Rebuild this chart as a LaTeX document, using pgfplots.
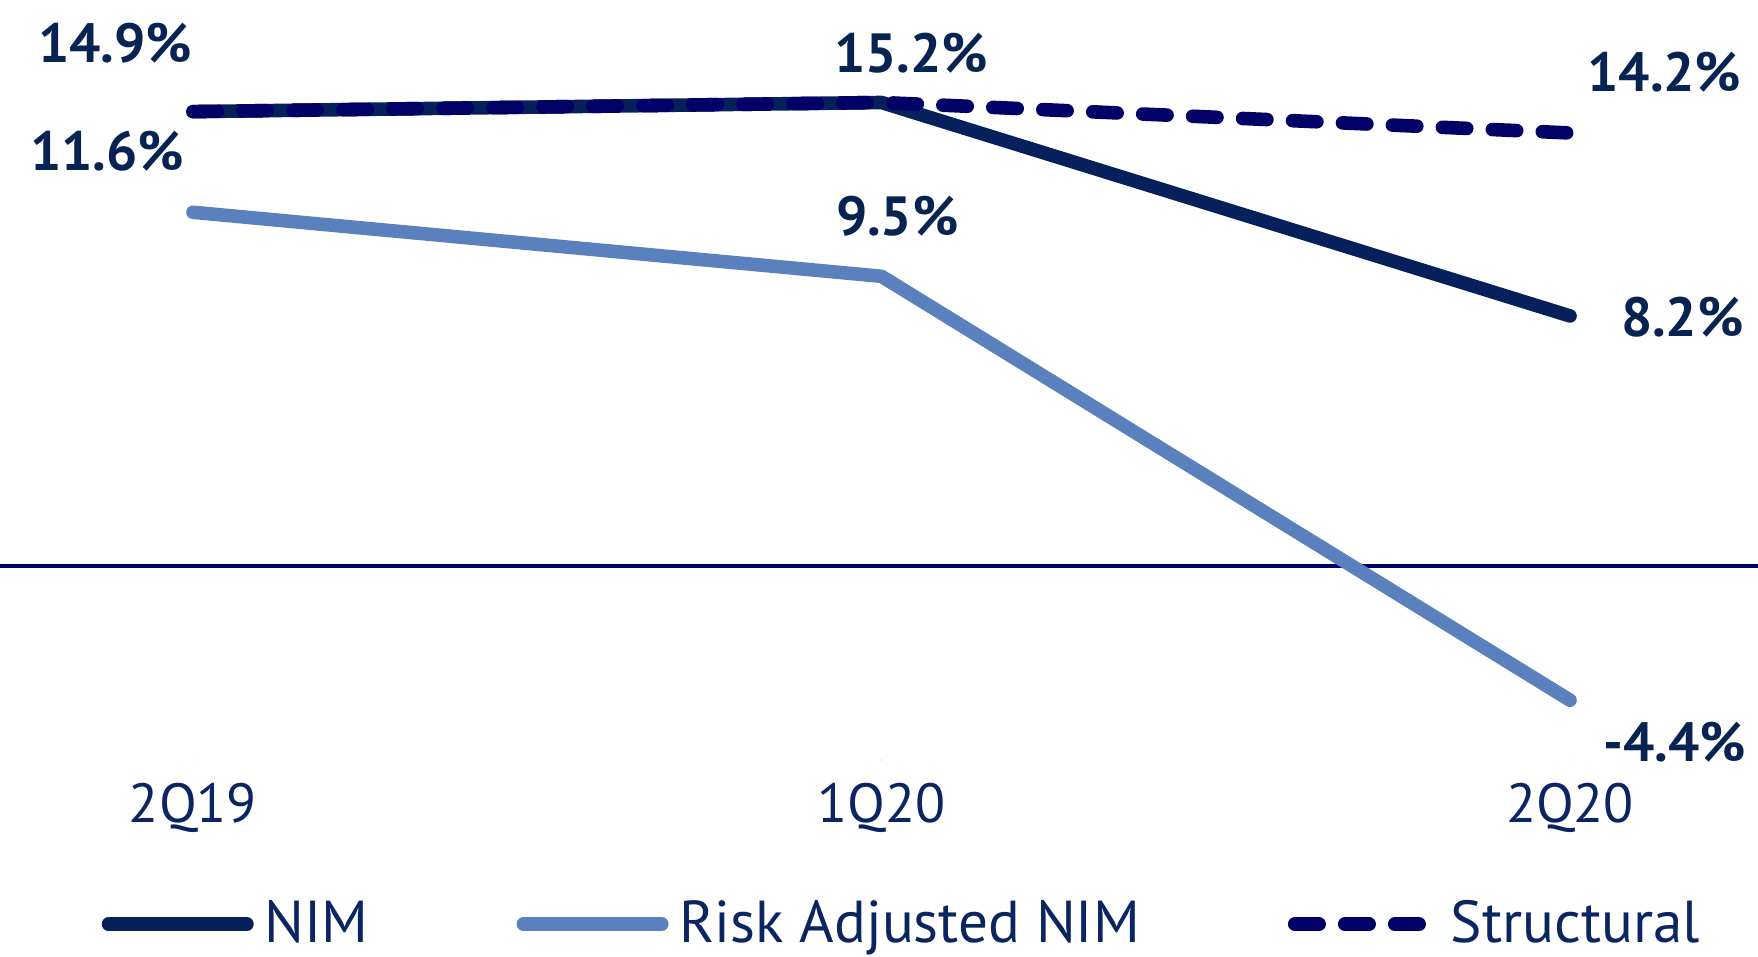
\documentclass[border=0pt]{standalone}
\usepackage{pgfplots}
\pgfplotsset{compat=1.18}
\usepackage{fontspec}
\setmainfont{PT Sans}
\definecolor{nim}{HTML}{06205C}
\definecolor{risk}{HTML}{5A80BE}
\definecolor{struc}{HTML}{000066}
\definecolor{txt}{HTML}{0B2462}
\definecolor{lbl}{HTML}{072352}

\begin{document}
\begin{tikzpicture}[x=1pt,y=1pt]
\useasboundingbox (0,0) rectangle (439.5,239);
\begin{axis}[
  at={(0pt,49pt)}, anchor=south west,
  scale only axis, width=439.5pt, height=190pt,
  xmin=-0.2803, xmax=2.2730, ymin=-6.36, ymax=18.56,
  clip=false,
  axis x line*=bottom, axis y line=none,
  x axis line style={draw=none},
  major tick length=0pt,
  ytick=\empty,
  xtick={0,1,2}, xticklabels={2Q19,1Q20,2Q20},
  xticklabel style={anchor=base, yshift=-15.5pt, text=txt, font=\fontsize{13.8}{16}\selectfont},
  legend columns=3,
  legend style={at={(axis description cs:0.0574,-0.216)}, anchor=west,
    draw=none, fill=none, inner sep=0pt, text=txt,
    font=\fontsize{14.8}{17}\selectfont,
    nodes={inner ysep=1pt},
    /tikz/every odd column/.append style={column sep=0.75pt},
    /tikz/every even column/.append style={column sep=35pt}},
  legend image code/.code={\draw[#1, line cap=round] (3.4pt,0pt) -- (38pt,0pt);},
  line cap=round,
]
\addplot[forget plot, struc, line width=1.2pt, line cap=butt] coordinates {(-0.2803,0) (2.2730,0)};
\addplot[nim, line width=3.4pt, line join=round] coordinates {(0,14.9) (1,15.2) (2,8.2)};
\addlegendentry{NIM}
\addplot[risk, line width=3.4pt, line join=round] coordinates {(0,11.6) (1,9.5) (2,-4.4)};
\addlegendentry{Risk Adjusted NIM}
\addplot[struc, line width=3.4pt, dash pattern=on 6.1pt off 6.4pt] coordinates {(0,14.9) (1,15.2) (2,14.2)};
\addlegendentry{Structural}

\begin{scope}[every node/.style={text=lbl, font=\fontsize{13.8}{16}\selectfont\bfseries, anchor=center, inner sep=0pt}]
\node at (axis cs:-0.113,17.15) {14.9\%};
\node at (axis cs:-0.125,13.61) {11.6\%};
\node at (axis cs:1.043,16.82) {15.2\%};
\node at (axis cs:1.023,11.48) {9.5\%};
\node at (axis cs:2.137,16.20) {14.2\%};
\node at (axis cs:2.163,8.16) {8.2\%};
\node at (axis cs:2.152,-5.77) {-4.4\%};
\end{scope}
\end{axis}
\end{tikzpicture}
\end{document}
